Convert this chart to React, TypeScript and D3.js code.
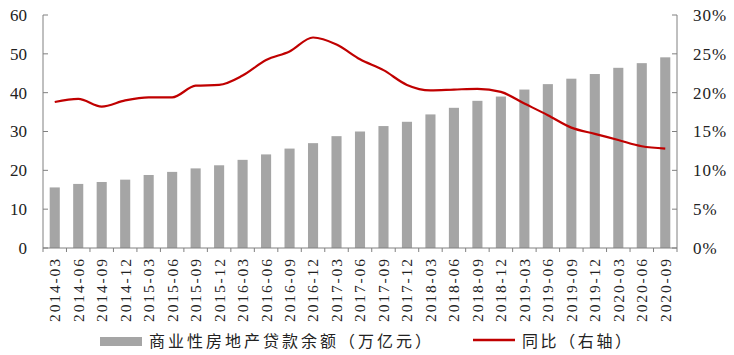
import React from "react";
import * as d3 from "d3";

const categories = [
  "2014-03","2014-06","2014-09","2014-12","2015-03","2015-06","2015-09","2015-12",
  "2016-03","2016-06","2016-09","2016-12","2017-03","2017-06","2017-09","2017-12",
  "2018-03","2018-06","2018-09","2018-12","2019-03","2019-06","2019-09","2019-12",
  "2020-03","2020-06","2020-09",
];
const balance = [
  15.6,16.5,17.0,17.6,18.8,19.6,20.5,21.3,22.7,24.1,25.6,27.0,28.8,30.0,31.4,32.5,
  34.4,36.1,37.9,39.0,40.8,42.2,43.6,44.8,46.4,47.6,49.1,
];
const yoy = [
  18.8,19.2,18.2,19.0,19.4,19.4,20.9,21.0,22.2,24.2,25.3,27.1,26.2,24.3,22.9,21.0,
  20.3,20.4,20.5,20.1,18.6,17.1,15.5,14.7,13.9,13.1,12.8,
];
const leftTicks = [0, 10, 20, 30, 40, 50, 60];
const rightTicks = [0, 5, 10, 15, 20, 25, 30];
const legendBar = "商业性房地产贷款余额（万亿元）";
const legendLine = "同比（右轴）";

export default function App() {
  const W = 734, H = 355;
  const left = 43, right = 677, top = 15, bottom = 248;
  const x = d3.scaleBand<string>().domain(categories).range([left, right]).paddingInner(0).paddingOuter(0);
  const yL = d3.scaleLinear().domain([0, 60]).range([bottom, top]);
  const yR = d3.scaleLinear().domain([0, 30]).range([bottom, top]);
  const bw = x.bandwidth();
  const barW = bw * 0.43;
  const line = d3.line<number>()
    .x((_, i) => (x(categories[i]) as number) + bw / 2)
    .y((d) => yR(d))
    .curve(d3.curveMonotoneX);
  const axisColor = "#808080";
  const serif = "'Liberation Serif', 'Times New Roman', serif";
  const cjk = "'Noto Sans CJK SC', sans-serif";
  return (
    <svg width={W} height={H} style={{ position: "absolute", left: 0, top: 0, background: "#fff" }}>
      {balance.map((v, i) => (
        <rect key={i} x={(x(categories[i]) as number) + bw / 2 - barW / 2} y={yL(v)}
          width={barW} height={bottom - yL(v)} fill="#A5A5A5" />
      ))}
      <path d={line(yoy) || ""} fill="none" stroke="#C00000" strokeWidth={2.2} />
      {/* left axis */}
      <line x1={left} x2={left} y1={top} y2={bottom} stroke={axisColor} strokeWidth={1} />
      {leftTicks.map((t) => (
        <g key={t}>
          <line x1={left} x2={left + 5} y1={yL(t)} y2={yL(t)} stroke={axisColor} />
          <text x={27} y={yL(t)} dy="0.35em" textAnchor="end" fontFamily={serif} fontSize={17} fill="#222">{t}</text>
        </g>
      ))}
      {/* right axis */}
      <line x1={right} x2={right} y1={top} y2={bottom} stroke={axisColor} strokeWidth={1} />
      {rightTicks.map((t) => (
        <g key={t}>
          <line x1={right - 5} x2={right} y1={yR(t)} y2={yR(t)} stroke={axisColor} />
          <text x={693} y={yR(t)} dy="0.35em" textAnchor="start" fontFamily={serif} fontSize={17} fill="#222" letterSpacing={1}>{t + "%"}</text>
        </g>
      ))}
      {/* x axis */}
      <line x1={left} x2={right} y1={bottom} y2={bottom} stroke={axisColor} />
      {categories.map((c, i) => (
        <line key={"t" + i} x1={x(c) as number} x2={x(c) as number} y1={bottom} y2={bottom + 4} stroke={axisColor} />
      ))}
      <line x1={right} x2={right} y1={bottom} y2={bottom + 4} stroke={axisColor} />
      {categories.map((c) => {
        const cx = (x(c) as number) + bw / 2;
        return (
          <text key={c} transform={`translate(${cx},259) rotate(-90)`} dy="0.35em" textAnchor="end"
            fontFamily={serif} fontSize={15.5} fill="#222" textLength={63} lengthAdjust="spacing">{c}</text>
        );
      })}
      {/* legend */}
      <rect x={100} y={337} width={42} height={9} fill="#A5A5A5" />
      <text x={149} y={341} dy="0.35em" fontFamily={cjk} fontSize={16} fill="#222" letterSpacing={3}>{legendBar}</text>
      <line x1={473} x2={515} y1={340} y2={340} stroke="#C00000" strokeWidth={2.5} />
      <text x={522} y={341} dy="0.35em" fontFamily={cjk} fontSize={16} fill="#222" letterSpacing={2.6}>{legendLine}</text>
    </svg>
  );
}
